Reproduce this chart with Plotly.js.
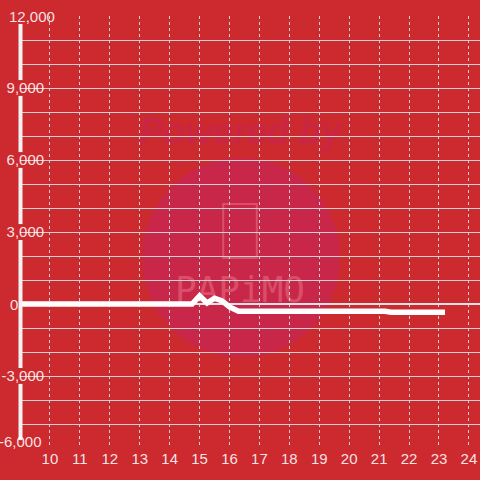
<!DOCTYPE html>
<html>
<head>
<meta charset="utf-8">
<script src="https://cdn.plot.ly/plotly-3.0.1.min.js"></script>
<style>
  html, body { margin: 0; padding: 0; background: #cd2a2f; }
  #chart { width: 480px; height: 480px; }
</style>
</head>
<body>
<div id="chart"></div>
<script>
// Data (hour of day vs value)
const hours  = [9, 14.75, 15.0, 15.25, 15.5, 15.75, 16.0, 16.3, 21.2, 21.4, 23.2];
const values = [0, 0,     340,  40,    240,  130,   -120, -300, -300, -340, -340];

const xTicks = [10, 11, 12, 13, 14, 15, 16, 17, 18, 19, 20, 21, 22, 23, 24];
const yTickVals = [-6000, -3000, 0, 3000, 6000, 9000, 12000];
const yTickText = ['-6,000', '-3,000', '0', '3,000', '6,000', '9,000', '12,000'];

const BG = '#cd2a2f';
const GRID = '#d2d2d2';
const LABEL = 'rgba(255,255,255,0.88)';
const WM = 'rgba(240,130,145,0.45)';
const FONT = 'Liberation Sans, Arial, sans-serif';

// labels the reference nudges away from the edges (drawn as annotations)
const nudged = {12000: {x: 0.014, xanchor: 'left', yshift: 0},
                0:     {x: 0.016, xanchor: 'left', yshift: 0},
                '-6000': {x: 0.092, xanchor: 'right', yshift: 7}};

const shownText = yTickText.map((t, i) => (yTickVals[i] in nudged) ? '' : t);
const annotations = yTickVals.filter(v => v in nudged).map(v => {
  const n = nudged[v];
  return {xref: 'paper', yref: 'y', x: n.x, y: v, xanchor: n.xanchor, yanchor: 'middle',
          yshift: n.yshift, showarrow: false, text: yTickText[yTickVals.indexOf(v)],
          font: {family: FONT, size: 15, color: LABEL}};
});

// y axis line segments with gaps where labels sit
const gap = 330;
const axisSegs = [];
for (let i = yTickVals.length - 1; i > 0; i--) {
  const top = yTickVals[i], bot = yTickVals[i - 1];
  if (top === 0 || bot === 0) continue;
  axisSegs.push([top - gap, bot + gap]);
}
axisSegs.push([3000 - gap, -3000 + gap]);

const shapes = [
  // watermark circle
  {type: 'circle', xref: 'paper', yref: 'paper', x0: 0.296, x1: 0.708, y0: 0.21, y1: 0.672,
   fillcolor: '#c9274a', line: {width: 0}, layer: 'below'},
  // watermark phone outline
  {type: 'rect', xref: 'paper', yref: 'paper', x0: 0.465, x1: 0.535, y0: 0.44, y1: 0.565,
   fillcolor: 'rgba(0,0,0,0)', line: {color: WM, width: 2}, layer: 'below'},
  // watermark "Powered by"
  {type: 'rect', xref: 'paper', yref: 'paper', x0: 0.3, x1: 0.7, y0: 0.7, y1: 0.78,
   fillcolor: 'rgba(0,0,0,0)', line: {width: 0}, layer: 'below',
   label: {text: '<b><i>Powered by</i></b>', font: {family: 'Liberation Sans', size: 36, color: 'rgba(200,35,80,0.6)'}}},
  // watermark logo text
  {type: 'rect', xref: 'paper', yref: 'paper', x0: 0.34, x1: 0.66, y0: 0.33, y1: 0.42,
   fillcolor: 'rgba(0,0,0,0)', line: {width: 0}, layer: 'below',
   label: {text: 'PAPiMO', font: {family: 'DejaVu Sans Mono', size: 36, color: WM}}}
];
axisSegs.forEach(s => shapes.push({
  type: 'line', xref: 'paper', yref: 'y', x0: 0.0427, x1: 0.0427, y0: s[0], y1: s[1],
  line: {color: '#f2f2f2', width: 4}, layer: 'above'
}));

const trace = {
  x: hours, y: values, type: 'scatter', mode: 'lines',
  line: {color: '#ffffff', width: 5.5},
  hoverinfo: 'skip', showlegend: false
};

const layout = {
  width: 480, height: 480,
  paper_bgcolor: BG, plot_bgcolor: 'rgba(0,0,0,0)',
  margin: {l: 0, r: 0, t: 16, b: 32},
  font: {family: FONT, size: 15, color: LABEL},
  xaxis: {
    domain: [0.0417, 1], range: [9, 24.37],
    tickmode: 'array', tickvals: xTicks,
    showgrid: true, gridcolor: GRID, gridwidth: 1, griddash: '3px,3px',
    zeroline: false, showline: false, ticks: '',
    tickfont: {size: 15, color: LABEL}
  },
  yaxis: {
    range: [-6000, 12000], anchor: 'free', position: 0.092,
    tickmode: 'array', tickvals: yTickVals, ticktext: shownText,
    showgrid: true, gridcolor: GRID, gridwidth: 1,
    minor: {tickmode: 'linear', tick0: 0, dtick: 1000, showgrid: true, gridcolor: GRID, gridwidth: 1, ticks: ''},
    zeroline: true, zerolinecolor: '#e4e4e4', zerolinewidth: 2.5,
    showline: false, ticks: '',
    tickfont: {size: 15, color: LABEL}
  },
  shapes: shapes,
  annotations: annotations,
  showlegend: false
};

Plotly.newPlot('chart', [trace], layout, {staticPlot: true, displayModeBar: false});
</script>
</body>
</html>
